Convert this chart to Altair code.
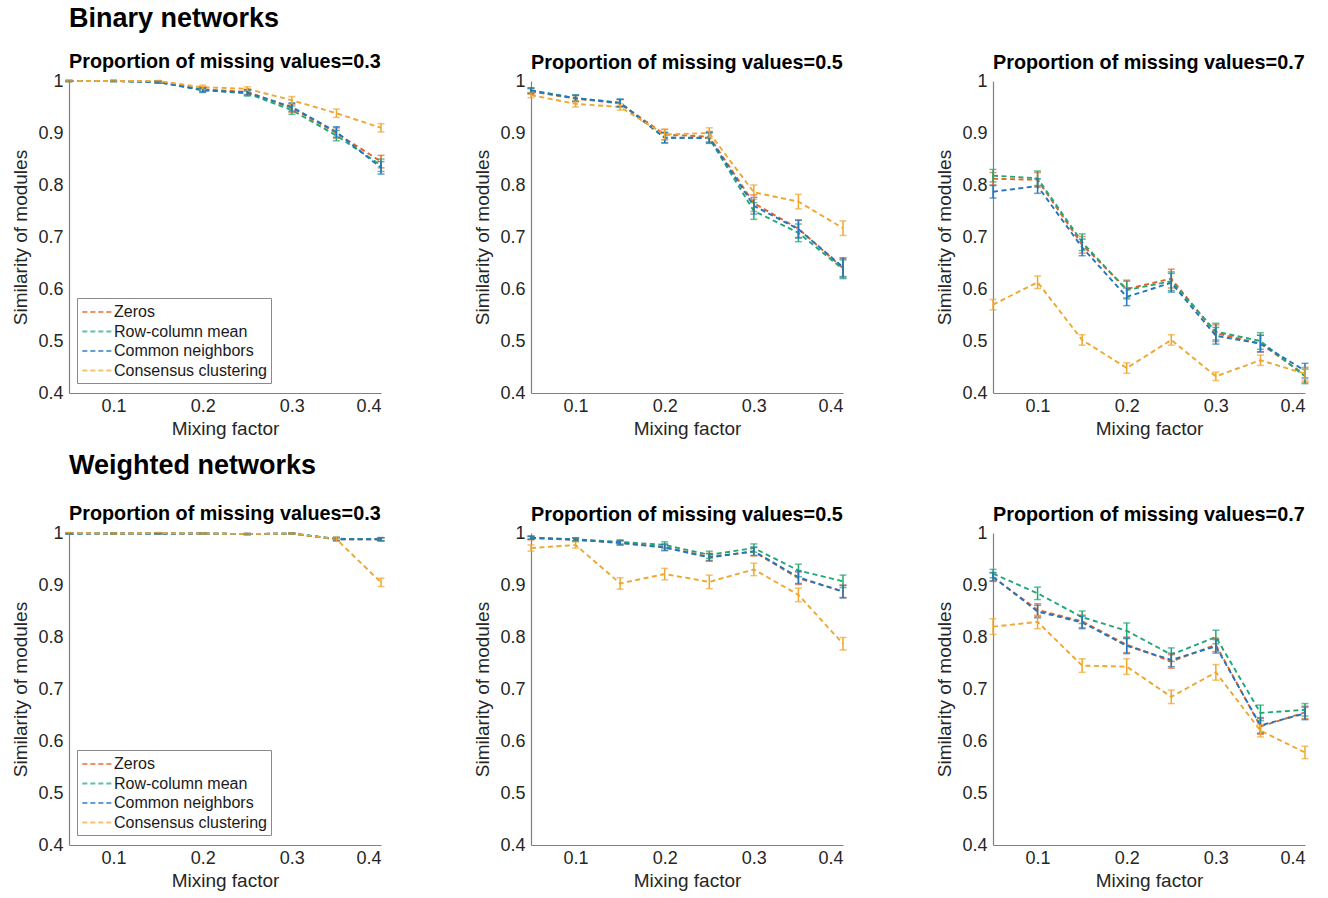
import altair as alt
import pandas as pd

x_vals = [0.05, 0.10, 0.15, 0.20, 0.25, 0.30, 0.35, 0.40]
methods = ["Zeros", "Row-column mean", "Common neighbors", "Consensus clustering"]
colors = ["#E4622B", "#1FA774", "#2275BE", "#EFA72F"]

# Binary networks, missing = 0.3
b3_zeros = [1.000, 1.000, 0.998, 0.984, 0.979, 0.948, 0.900, 0.845]
b3_rowcol = [1.000, 1.000, 0.998, 0.983, 0.976, 0.944, 0.895, 0.838]
b3_common = [1.000, 1.000, 0.998, 0.982, 0.978, 0.950, 0.902, 0.833]
b3_consensus = [1.000, 1.000, 1.000, 0.988, 0.985, 0.963, 0.938, 0.910]
b3_err = [0.001, 0.001, 0.002, 0.004, 0.005, 0.008, 0.010, 0.012]
b3_err_cons = [0.001, 0.001, 0.001, 0.004, 0.004, 0.007, 0.008, 0.008]

# Binary networks, missing = 0.5
b5_zeros = [0.980, 0.966, 0.957, 0.897, 0.893, 0.765, 0.716, 0.640]
b5_rowcol = [0.981, 0.967, 0.958, 0.891, 0.890, 0.750, 0.708, 0.638]
b5_common = [0.982, 0.967, 0.958, 0.891, 0.891, 0.760, 0.715, 0.642]
b5_consensus = [0.973, 0.956, 0.950, 0.897, 0.900, 0.786, 0.768, 0.717]
b5_err = [0.005, 0.006, 0.007, 0.010, 0.010, 0.016, 0.017, 0.018]
b5_err_cons = [0.005, 0.006, 0.006, 0.010, 0.010, 0.014, 0.014, 0.014]

# Binary networks, missing = 0.7
b7_zeros = [0.812, 0.810, 0.685, 0.600, 0.620, 0.515, 0.495, 0.435]
b7_rowcol = [0.818, 0.813, 0.690, 0.598, 0.615, 0.518, 0.500, 0.432]
b7_common = [0.787, 0.798, 0.680, 0.585, 0.612, 0.510, 0.495, 0.443]
b7_consensus = [0.570, 0.613, 0.502, 0.448, 0.502, 0.432, 0.463, 0.437]
b7_err = [0.012, 0.014, 0.016, 0.017, 0.018, 0.016, 0.016, 0.014]
b7_err_cons = [0.010, 0.012, 0.010, 0.010, 0.010, 0.008, 0.010, 0.012]

# Weighted networks, missing = 0.3
w3_zeros = [0.999, 0.999, 0.999, 0.999, 0.998, 0.999, 0.988, 0.988]
w3_rowcol = [0.999, 0.999, 0.999, 0.999, 0.998, 0.999, 0.989, 0.988]
w3_common = [0.999, 0.999, 0.999, 0.999, 0.998, 0.999, 0.988, 0.988]
w3_consensus = [1.000, 0.999, 1.000, 0.999, 0.998, 0.999, 0.988, 0.905]
w3_err = [0.001, 0.001, 0.001, 0.001, 0.001, 0.001, 0.003, 0.003]
w3_err_cons = [0.001, 0.001, 0.001, 0.001, 0.001, 0.001, 0.004, 0.008]

# Weighted networks, missing = 0.5
w5_zeros = [0.990, 0.987, 0.981, 0.973, 0.954, 0.964, 0.913, 0.888]
w5_rowcol = [0.991, 0.988, 0.983, 0.977, 0.958, 0.971, 0.928, 0.907]
w5_common = [0.991, 0.987, 0.981, 0.972, 0.953, 0.965, 0.915, 0.887]
w5_consensus = [0.971, 0.977, 0.903, 0.921, 0.906, 0.930, 0.881, 0.787]
w5_err = [0.003, 0.003, 0.004, 0.006, 0.007, 0.008, 0.012, 0.012]
w5_err_cons = [0.006, 0.006, 0.011, 0.011, 0.013, 0.012, 0.013, 0.012]

# Weighted networks, missing = 0.7
w7_zeros = [0.915, 0.852, 0.830, 0.785, 0.753, 0.785, 0.628, 0.655]
w7_rowcol = [0.922, 0.884, 0.838, 0.812, 0.766, 0.800, 0.654, 0.660]
w7_common = [0.916, 0.849, 0.828, 0.783, 0.756, 0.782, 0.630, 0.653]
w7_consensus = [0.820, 0.829, 0.745, 0.743, 0.685, 0.732, 0.620, 0.578]
w7_err = [0.008, 0.012, 0.012, 0.015, 0.013, 0.013, 0.015, 0.012]
w7_err_cons = [0.015, 0.013, 0.013, 0.015, 0.013, 0.015, 0.012, 0.012]

panel_specs = [
    ("Binary networks", 19, "0.3", [b3_zeros, b3_rowcol, b3_common, b3_consensus], b3_err, b3_err_cons, True),
    ("", 0, "0.5", [b5_zeros, b5_rowcol, b5_common, b5_consensus], b5_err, b5_err_cons, False),
    ("", 0, "0.7", [b7_zeros, b7_rowcol, b7_common, b7_consensus], b7_err, b7_err_cons, False),
    ("Weighted networks", 24, "0.3", [w3_zeros, w3_rowcol, w3_common, w3_consensus], w3_err, w3_err_cons, True),
    ("", 0, "0.5", [w5_zeros, w5_rowcol, w5_common, w5_consensus], w5_err, w5_err_cons, False),
    ("", 0, "0.7", [w7_zeros, w7_rowcol, w7_common, w7_consensus], w7_err, w7_err_cons, False),
]

FONT = "Liberation Sans"


def make_panel(header, header_pad, prop, series, err, err_cons, show_legend):
    rows = []
    for m, vals in zip(methods, series):
        e_list = err_cons if m == "Consensus clustering" else err
        for xv, yv, ev in zip(x_vals, vals, e_list):
            rows.append({"x": xv, "y": yv, "lo": yv - ev, "hi": yv + ev, "method": m})
    df = pd.DataFrame(rows)

    if show_legend:
        legend = alt.Legend(
            orient="none", legendX=8, legendY=217, title=None,
            symbolType="M-1,0L2.4,0", symbolDash=[5, 3], symbolStrokeWidth=2,
            symbolSize=300, labelFontSize=16, labelFont=FONT, labelColor="#1a1a1a",
            strokeColor="#8a8a8a", fillColor="white", padding=4, rowPadding=1.5,
            labelOffset=13,
        )
    else:
        legend = None

    color = alt.Color("method:N", scale=alt.Scale(domain=methods, range=colors), legend=legend)
    xenc = alt.X(
        "x:Q",
        scale=alt.Scale(domain=[0.05, 0.4], nice=False, zero=False),
        axis=alt.Axis(values=[0.1, 0.2, 0.3, 0.4], format=".1f", title="Mixing factor",
                      labelPadding=4, titlePadding=4),
    )
    yscale = alt.Scale(domain=[0.4, 1.0], nice=False, zero=False)
    yaxis = alt.Axis(values=[0.4, 0.5, 0.6, 0.7, 0.8, 0.9, 1.0], format=".1~f",
                     title="Similarity of modules", labelPadding=6, titlePadding=7)

    base = alt.Chart(df)
    line = base.mark_line(strokeDash=[5, 3.5], strokeWidth=1.9).encode(
        x=xenc, y=alt.Y("y:Q", scale=yscale, axis=yaxis), color=color
    )
    bars = base.mark_errorbar(ticks={"size": 7}, thickness=1.5).encode(
        x=xenc, y=alt.Y("lo:Q", scale=yscale, axis=yaxis), y2="hi:Q", color=color
    )

    ptitle = "Proportion of missing values=" + prop
    if header:
        title = alt.TitleParams(
            text=header, subtitle=ptitle, anchor="start", frame="group", font=FONT,
            fontSize=27, fontWeight="bold", color="#000000", subtitleFont=FONT,
            subtitleFontSize=19.8, subtitleFontWeight="bold", subtitleColor="#000000",
            subtitlePadding=header_pad, offset=-1,
        )
    else:
        title = alt.TitleParams(
            text=ptitle, anchor="start", frame="group", font=FONT, fontSize=19.8,
            fontWeight="bold", color="#000000", offset=-1,
        )
    return alt.layer(line, bars).properties(width=312, height=312, title=title).resolve_scale(color="shared")


panels = [make_panel(*spec) for spec in panel_specs]

chart = alt.concat(*panels, columns=3, bounds="flush", spacing={"row": 140, "column": 150})
chart = chart.resolve_scale(color="independent").resolve_legend(color="independent")
chart = chart.properties(
    padding={"left": 11, "top": 5, "right": 5, "bottom": 5}, background="white"
).configure_axis(
    domainColor="#808080", domainWidth=1.2, labelColor="#262626", titleColor="#262626",
    labelFont=FONT, titleFont=FONT, labelFontSize=18, titleFontSize=19,
    titleFontWeight="normal", grid=False, ticks=False,
).configure_view(stroke=None)

chart.save("out.html", embed_options={"renderer": "svg", "actions": False})
